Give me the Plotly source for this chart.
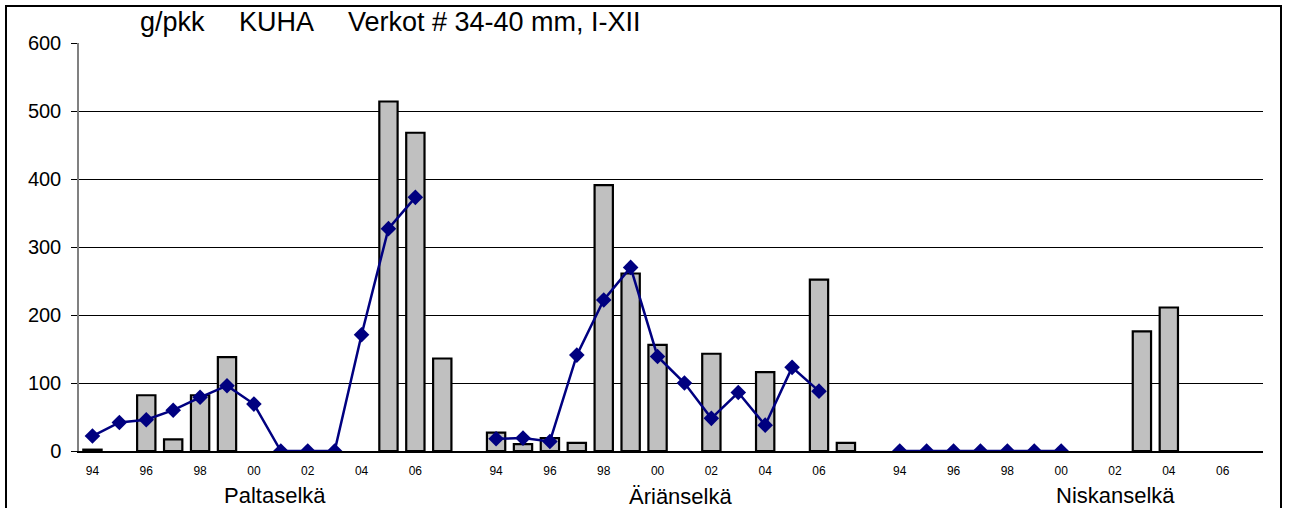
import plotly.graph_objects as go

# ---- data ----
years = ["94", "95", "96", "97", "98", "99", "00", "01", "02", "03", "04", "05", "06", "07"]
regions = ["Paltaselkä", "Äriänselkä", "Niskanselkä"]

bars_paltaselka = [2, None, 82, 17, 82, 138, None, None, None, None, None, 514, 468, 136]
line_paltaselka = [22, 42, 46, 60, 79, 96, 69, 0, 0, 0, 171, 327, 373, None]

bars_arianselka = [27, 10, 19, 12, 391, 261, 156, None, 143, None, 116, None, 252, 12]
line_arianselka = [18, 19, 14, 141, 222, 270, 139, 100, 48, 86, 38, 123, 88, None]

bars_niskanselka = [None, None, None, None, None, None, None, None, None, 176, 211, None, None, None]
line_niskanselka = [0, 0, 0, 0, 0, 0, 0, None, None, None, None, None, None, None]

title_parts = ["g/pkk", "KUHA", "Verkot # 34-40 mm, I-XII"]

# ---- layout geometry (pixels) ----
W, H = 1290, 508
L, R, T, B = 79, 27, 43, 57
PW, PH = W - L - R, H - T - B

def px_x(px):
    return (px - L) / PW

def px_y(py):
    return (H - B - py) / PH

GROUP_SLOTS = 15
bar_sets = [bars_paltaselka, bars_arianselka, bars_niskanselka]
line_sets = [line_paltaselka, line_arianselka, line_niskanselka]

fig = go.Figure()

bx, by = [], []
for g, vals in enumerate(bar_sets):
    for i, v in enumerate(vals):
        bx.append(g * GROUP_SLOTS + i)
        by.append(v)
fig.add_trace(go.Bar(x=bx, y=by, marker=dict(color="#C0C0C0", line=dict(color="black", width=2.2)),
                     showlegend=False))

for g, vals in enumerate(line_sets):
    xs = [g * GROUP_SLOTS + i for i in range(len(years))]
    fig.add_trace(go.Scatter(x=xs, y=vals, mode="lines+markers",
                             line=dict(color="#000080", width=2.5),
                             marker=dict(symbol="diamond", size=12, color="#000080"),
                             showlegend=False))

n_regions = len(regions)
tickvals, ticktext = [], []
for g in range(n_regions):
    for i, y in enumerate(years):
        if i % 2 == 0:
            tickvals.append(g * GROUP_SLOTS + i)
            ticktext.append(y)

total_slots = GROUP_SLOTS * (n_regions - 1) + len(years)

fig.update_layout(
    width=W, height=H,
    margin=dict(l=L, r=R, t=T, b=B, pad=0),
    paper_bgcolor="white", plot_bgcolor="white",
    font=dict(family="Liberation Sans, Arial, sans-serif", color="black"),
    bargap=0.32,
    xaxis=dict(range=[-0.5, total_slots - 0.5], tickvals=tickvals, ticktext=ticktext,
               tickfont=dict(size=12), showgrid=False, zeroline=False,
               showline=True, linecolor="black", linewidth=1.5, ticks="",
               ticklabelstandoff=8),
    yaxis=dict(range=[0, 600], dtick=100, tickfont=dict(size=20),
               showgrid=True, gridcolor="black", gridwidth=1, zeroline=False,
               showline=True, linecolor="#808080", linewidth=1.5,
               ticks="outside", ticklen=6, tickcolor="black", ticklabelstandoff=6),
)

# title pieces
title_x = [138, 237, 346]
annotations = []
for txt, xp in zip(title_parts, title_x):
    annotations.append(dict(text=txt, x=px_x(xp), y=px_y(22), xref="paper", yref="paper",
                            xanchor="left", yanchor="middle", showarrow=False,
                            font=dict(size=27)))

# region labels
region_pos = [(275, 495), (680, 496), (1115, 495)]
for name, (xp, yp) in zip(regions, region_pos):
    annotations.append(dict(text=name, x=px_x(xp), y=px_y(yp), xref="paper", yref="paper",
                            xanchor="center", yanchor="middle", showarrow=False,
                            font=dict(size=22)))
fig.update_layout(annotations=annotations)

# outer chart border
fig.add_shape(type="rect", xref="paper", yref="paper",
              x0=px_x(6), x1=px_x(1281), y0=px_y(540), y1=px_y(6),
              line=dict(color="black", width=2), fillcolor="rgba(0,0,0,0)", layer="above")

fig.write_html("out.html", config={"displayModeBar": False},
               post_script="document.body.style.margin='0';document.body.style.overflow='hidden';")
